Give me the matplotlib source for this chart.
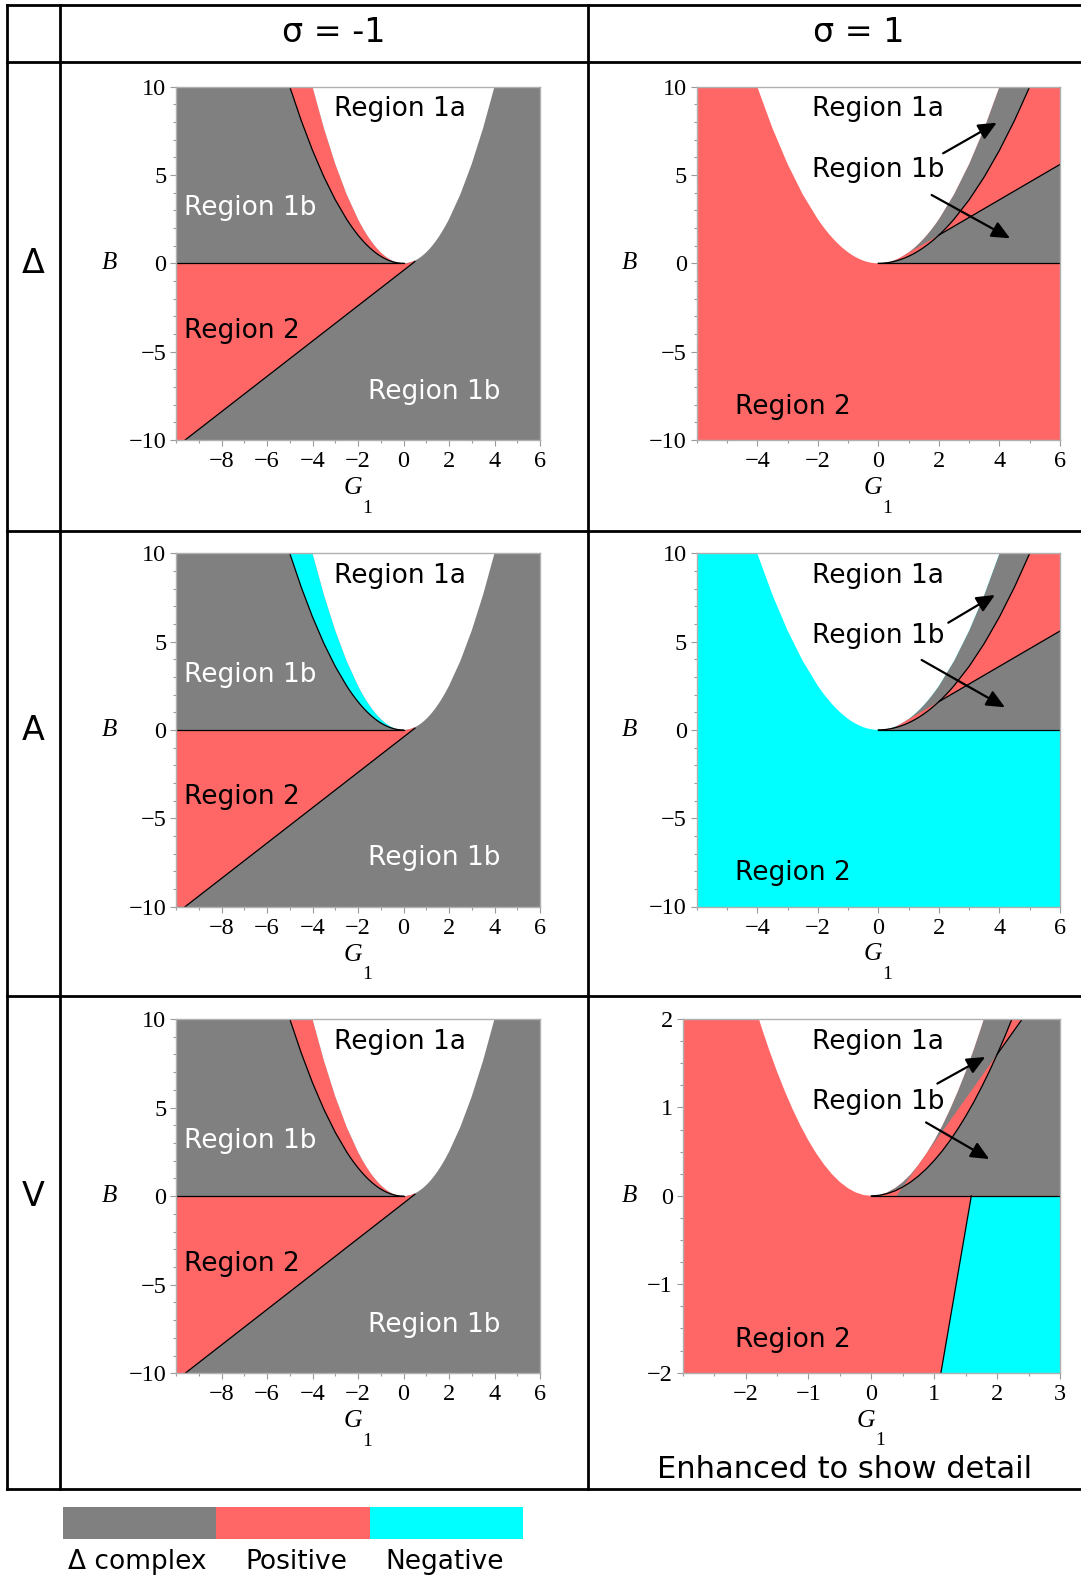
import matplotlib
matplotlib.use('Agg')
import matplotlib.pyplot as plt
from matplotlib.lines import Line2D
from matplotlib.ticker import FixedLocator, MultipleLocator

W, H = 1081, 1579
GREY = '#808080'
RED = '#ff6666'
CYAN = '#00ffff'

# ---------------- data: region boundaries ----------------
# white parabola (Region 1a boundary)
c1_g = [-4.0, -3.5, -3.0, -2.5, -2.0, -1.875, -1.75, -1.625, -1.5, -1.375, -1.25, -1.125,
        -1.0, -0.875, -0.75, -0.625, -0.5, -0.375, -0.25, -0.125, 0.0,
        0.125, 0.25, 0.375, 0.5, 0.625, 0.75, 0.875, 1.0, 1.125, 1.25, 1.375, 1.5,
        1.625, 1.75, 1.875, 2.0, 2.5, 3.0, 3.5, 4.0]
c1_b = [10.0, 7.66, 5.63, 3.91, 2.5, 2.197, 1.914, 1.650, 1.406, 1.182, 0.977, 0.791,
        0.625, 0.479, 0.352, 0.244, 0.156, 0.088, 0.039, 0.0098, 0.0,
        0.0098, 0.039, 0.088, 0.156, 0.244, 0.352, 0.479, 0.625, 0.791, 0.977, 1.182, 1.406,
        1.650, 1.914, 2.197, 2.5, 3.91, 5.63, 7.66, 10.0]
# black parabola (right branch; the sigma=-1 panels show its mirror image)
c2_g = [0.0, 0.125, 0.25, 0.375, 0.5, 0.625, 0.75, 0.875, 1.0, 1.125, 1.25, 1.375, 1.5,
        1.625, 1.75, 1.875, 2.0, 2.125, 2.25, 2.375, 2.5, 3.0, 3.5, 4.0, 4.5, 5.0]
c2_b = [0.0, 0.006, 0.025, 0.056, 0.1, 0.156, 0.225, 0.306, 0.4, 0.506, 0.625, 0.756, 0.9,
        1.056, 1.225, 1.406, 1.6, 1.806, 2.025, 2.256, 2.5, 3.6, 4.9, 6.4, 8.1, 10.0]
# straight black line
l_g = [-9.6, 0.4, 0.5, 2.0, 10.4]
l_b = [-10.0, 0.0, 0.1, 1.6, 10.0]
# steep line in the V, sigma=1 panel (B<0)
m_g = [1.59, 1.107]
m_b = [0.0, -2.0]

col_titles = ['σ = -1', 'σ = 1']
row_titles = ['Δ', 'A', 'V']
left_strip_colors = [RED, CYAN, RED]
right_base_colors = [RED, CYAN, RED]
legend_labels = ['Δ complex', 'Positive', 'Negative']
legend_colors = [GREY, RED, CYAN]

xt_left = [-8, -6, -4, -2, 0, 2, 4, 6]
xt_left_lbl = ['−8', '−6', '−4', '−2', '0', '2', '4', '6']
xt_right = [-4, -2, 0, 2, 4, 6]
xt_right_lbl = ['−4', '−2', '0', '2', '4', '6']
yt_big = [-10, -5, 0, 5, 10]
yt_big_lbl = ['−10', '−5', '0', '5', '10']
xt_det = [-2, -1, 0, 1, 2, 3]
xt_det_lbl = ['−2', '−1', '0', '1', '2', '3']
yt_det = [-2, -1, 0, 1, 2]
yt_det_lbl = ['−2', '−1', '0', '1', '2']

SERIF = 'Liberation Serif'

fig = plt.figure(figsize=(W / 100, H / 100), dpi=100)


def fx(x):
    return x / W


def fy(y):
    return 1 - y / H


def add_axes(l, t, r, b):
    return fig.add_axes([fx(l), fy(b), (r - l) / W, (b - t) / H])


def style_axes(ax, xlim, ylim, xt, xtl, yt, ytl, xminor, yminor):
    ax.set_xlim(*xlim)
    ax.set_ylim(*ylim)
    ax.xaxis.set_major_locator(FixedLocator(xt))
    ax.yaxis.set_major_locator(FixedLocator(yt))
    ax.set_xticklabels(xtl, fontfamily=SERIF, fontsize=17.5)
    ax.set_yticklabels(ytl, fontfamily=SERIF, fontsize=17.5)
    ax.xaxis.set_minor_locator(MultipleLocator(xminor))
    ax.yaxis.set_minor_locator(MultipleLocator(yminor))
    ax.tick_params(which='both', direction='out', color='#9a9a9a', width=0.8)
    ax.tick_params(which='major', length=4)
    ax.tick_params(which='minor', length=2.5)
    ax.tick_params(axis='x', pad=4)
    ax.tick_params(axis='y', pad=3)
    for s in ax.spines.values():
        s.set_color('#b0b0b0')
        s.set_linewidth(1.0)
        s.set_zorder(6)


def fill(ax, pts, color):
    xs = [p[0] for p in pts]
    ys = [p[1] for p in pts]
    ax.fill(xs, ys, color=color, lw=0, zorder=1)


C1 = list(zip(c1_g, c1_b))
C2R = list(zip(c2_g, c2_b))
C2L = [(-g, b) for g, b in C2R]
LN = list(zip(l_g, l_b))


def draw_left(ax, strip):
    xmin, xmax, ymin, ymax = -10, 6, -10, 10
    ax.set_facecolor(GREY)
    # Region 2 (below B=0, above line)
    fill(ax, [(xmin, 0), LN[1], LN[0], (xmin, ymin)], RED)
    # strip between black parabola and white parabola
    c1left = [p for p in C1 if p[0] <= 0]
    fill(ax, C2L + c1left, strip)
    # white region
    fill(ax, C1, 'white')
    # small sliver near the vertex
    fill(ax, [p for p in C1 if 0 <= p[0] <= 0.5] + [LN[2], LN[1]], RED)
    # black boundary lines
    ax.plot([xmin, 0], [0, 0], color='k', lw=0.9, zorder=3)
    ax.plot([p[0] for p in C2L], [p[1] for p in C2L], color='k', lw=0.9, zorder=3)
    ax.plot(l_g[:3], l_b[:3], color='k', lw=0.9, zorder=3)


def draw_right(ax, base, xlim, ylim, detail=False):
    xmin, xmax = xlim
    ymin, ymax = ylim
    ax.set_facecolor(base)
    if detail:
        fill(ax, [(m_g[0], m_b[0]), (xmax + 5, 0), (xmax + 5, ymin), (m_g[1], m_b[1])], CYAN)
    c1right = [p for p in C1 if p[0] >= 0]
    fill(ax, c1right + [(xmax + 10, c1right[-1][1]), (xmax + 10, 0)], GREY)
    fill(ax, C1, 'white')
    # red wedge between black parabola and line (G1 > 2)
    wedge = [p for p in C2R if p[0] >= 2] + [LN[4], LN[3]]
    fill(ax, wedge, RED)
    # red sliver between line and parabola (0.5 < G1 < 2)
    sliver = [LN[2], LN[3]] + [p for p in reversed(C2R) if 0.5 <= p[0] <= 2]
    fill(ax, sliver, RED)
    fill(ax, [p for p in C2R if p[0] <= 0.5] + [LN[1]], RED)
    # black boundary lines
    ax.plot([0, xmax + 10], [0, 0], color='k', lw=0.9, zorder=3)
    ax.plot(c2_g, c2_b, color='k', lw=0.9, zorder=3)
    ax.plot(l_g[3:], l_b[3:], color='k', lw=0.9, zorder=3)
    if detail:
        ax.plot(m_g, m_b, color='k', lw=0.9, zorder=3)


def region(ax, x, y, s, color='black'):
    ax.text(x, y, s, ha='left', va='center', fontsize=19, color=color, zorder=5)


def arrow(ax, tail, head):
    ax.annotate('', xy=head, xytext=tail,
                arrowprops=dict(arrowstyle='-|>,head_length=0.55,head_width=0.25',
                                color='k', lw=1.6, mutation_scale=20,
                                shrinkA=0, shrinkB=0), zorder=5)


def axis_labels(l, t, r, b):
    cx = (l + r) / 2
    fig.text(fx(cx - 5), fy(b + 48), 'G', fontfamily=SERIF, style='italic',
             fontsize=18.5, ha='center', va='center')
    fig.text(fx(cx + 9), fy(b + 68), '1', fontfamily=SERIF,
             fontsize=14, ha='center', va='center')


left_boxes = [(176, 86.7, 540, 440), (176, 553.3, 540, 906.7), (176, 1019, 540, 1373.3)]
right_boxes = [(696.7, 86.7, 1060, 440), (696.7, 553.3, 1060, 906.5), (682.7, 1019, 1060, 1372.7)]

for i in range(3):
    l, t, r, b = left_boxes[i]
    ax = add_axes(l, t, r, b)
    draw_left(ax, left_strip_colors[i])
    style_axes(ax, (-10, 6), (-10, 10), xt_left, xt_left_lbl, yt_big, yt_big_lbl, 1, 1)
    region(ax, -3.04, 8.72, 'Region 1a')
    region(ax, -9.64, 3.14, 'Region 1b', 'white')
    region(ax, -9.64, -3.81, 'Region 2')
    region(ax, -1.57, -7.26, 'Region 1b', 'white')
    axis_labels(l, t, r, b)
    fig.text(fx(109.3), fy((t + b) / 2), 'B', fontfamily=SERIF, style='italic',
             fontsize=18, ha='center', va='center')

    l, t, r, b = right_boxes[i]
    ax = add_axes(l, t, r, b)
    if i < 2:
        draw_right(ax, right_base_colors[i], (-6, 6), (-10, 10))
        style_axes(ax, (-6, 6), (-10, 10), xt_right, xt_right_lbl, yt_big, yt_big_lbl, 1, 1)
        region(ax, -2.20, 8.72, 'Region 1a')
        region(ax, -2.20, 5.29, 'Region 1b')
        region(ax, -4.73, -8.11, 'Region 2')
        if i == 0:
            arrow(ax, (2.14, 6.23), (3.91, 7.96))
            arrow(ax, (1.76, 3.87), (4.35, 1.42))
        else:
            arrow(ax, (2.31, 6.07), (3.85, 7.64))
            arrow(ax, (1.43, 3.96), (4.18, 1.28))
    else:
        draw_right(ax, right_base_colors[i], (-3, 3), (-2, 2), detail=True)
        style_axes(ax, (-3, 3), (-2, 2), xt_det, xt_det_lbl, yt_det, yt_det_lbl, 0.5, 0.25)
        region(ax, -0.95, 1.743, 'Region 1a')
        region(ax, -0.95, 1.058, 'Region 1b')
        region(ax, -2.17, -1.63, 'Region 2')
        arrow(ax, (1.05, 1.27), (1.81, 1.57))
        arrow(ax, (0.87, 0.83), (1.875, 0.416))
    axis_labels(l, t, r, b)
    fig.text(fx(629.3), fy((t + b) / 2), 'B', fontfamily=SERIF, style='italic',
             fontsize=18, ha='center', va='center')

# ---------------- table grid ----------------
LW = 2.0
hlines = [(5, 6.5, W), (61.7, 6.5, W), (530.5, 6.5, W), (996, 6.5, W), (1489, 6.5, W)]
for y, x0, x1 in hlines:
    fig.add_artist(Line2D([fx(x0), fx(x1)], [fy(y), fy(y)], transform=fig.transFigure,
                          color='k', lw=LW))
for x in [6.5, 60, 587.5]:
    fig.add_artist(Line2D([fx(x), fx(x)], [fy(5), fy(1489)], transform=fig.transFigure,
                          color='k', lw=LW))

fig.text(fx(334), fy(33), col_titles[0], fontsize=24, ha='center', va='center')
fig.text(fx(859), fy(33), col_titles[1], fontsize=24, ha='center', va='center')
for name, (l, t, r, b) in zip(row_titles, left_boxes):
    fig.text(fx(33), fy((t + b) / 2), name, fontsize=24, ha='center', va='center')

fig.text(fx(845), fy(1470), 'Enhanced to show detail', fontsize=22, ha='center', va='center')

# ---------------- colour legend ----------------
lax = add_axes(63, 1507, 523, 1539)
lax.bar(range(len(legend_colors)), [1] * len(legend_colors), width=1.0, align='edge',
        color=legend_colors, edgecolor='none')
lax.set_xlim(0, len(legend_colors))
lax.set_ylim(0, 1)
lax.axis('off')
for x, s in zip([137, 296, 445], legend_labels):
    fig.text(fx(x), fy(1562), s, fontsize=19, ha='center', va='center')

fig.savefig('out.png', dpi=100)
